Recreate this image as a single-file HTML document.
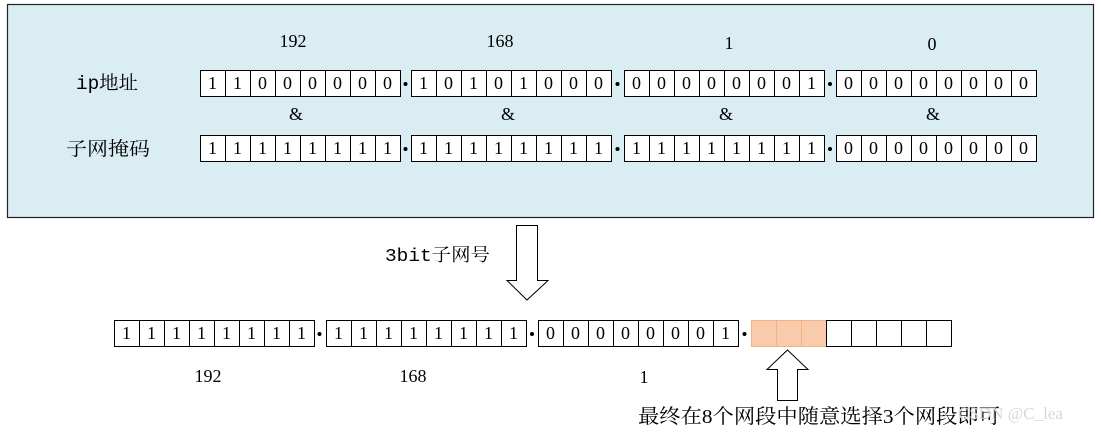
<!DOCTYPE html>
<html><head><meta charset="utf-8"><style>
html,body{margin:0;padding:0;background:#fff}
svg text{font-family:"Liberation Serif","Noto Serif CJK SC",serif;fill:#000}
.d{font-size:18px;text-anchor:middle}
.m{font-family:"Liberation Mono","Noto Serif CJK SC",serif !important}
.g rect{fill:#fff;stroke:#000;stroke-width:1}
.g line{stroke:#000;stroke-width:1}
</style></head><body>
<svg width="1101" height="433" viewBox="0 0 1101 433" xmlns="http://www.w3.org/2000/svg">
<defs>
<g id="grid" class="g"><rect x="0.5" y="0.5" width="200" height="26"/>
<line x1="25.5" y1="0" x2="25.5" y2="27"/><line x1="50.5" y1="0" x2="50.5" y2="27"/><line x1="75.5" y1="0" x2="75.5" y2="27"/><line x1="100.5" y1="0" x2="100.5" y2="27"/><line x1="125.5" y1="0" x2="125.5" y2="27"/><line x1="150.5" y1="0" x2="150.5" y2="27"/><line x1="175.5" y1="0" x2="175.5" y2="27"/></g>
</defs>
<rect x="7.5" y="4.5" width="1086" height="213" fill="#daedf3" stroke="#222" stroke-width="1.2"/>
<g class="d">
<text x="293" y="47">192</text><text x="500" y="47">168</text><text x="729" y="49">1</text><text x="932" y="50">0</text>
<text x="296" y="120">&amp;</text><text x="508" y="120">&amp;</text><text x="726" y="120">&amp;</text><text x="933" y="120">&amp;</text>
</g>
<text class="m" x="76" y="89" font-size="19" textLength="62" lengthAdjust="spacingAndGlyphs">ip地址</text>
<text x="66" y="155" font-size="19" textLength="84" lengthAdjust="spacingAndGlyphs">子网掩码</text>

<use href="#grid" x="200" y="70"/><use href="#grid" x="411" y="70"/><use href="#grid" x="624" y="70"/><use href="#grid" x="836" y="70"/>
<g class="d">
<text x="212.5" y="89">1</text><text x="237.5" y="89">1</text><text x="262.5" y="89">0</text><text x="287.5" y="89">0</text><text x="312.5" y="89">0</text><text x="337.5" y="89">0</text><text x="362.5" y="89">0</text><text x="387.5" y="89">0</text>
<text x="423.5" y="89">1</text><text x="448.5" y="89">0</text><text x="473.5" y="89">1</text><text x="498.5" y="89">0</text><text x="523.5" y="89">1</text><text x="548.5" y="89">0</text><text x="573.5" y="89">0</text><text x="598.5" y="89">0</text>
<text x="636.5" y="89">0</text><text x="661.5" y="89">0</text><text x="686.5" y="89">0</text><text x="711.5" y="89">0</text><text x="736.5" y="89">0</text><text x="761.5" y="89">0</text><text x="786.5" y="89">0</text><text x="811.5" y="89">1</text>
<text x="848.5" y="89">0</text><text x="873.5" y="89">0</text><text x="898.5" y="89">0</text><text x="923.5" y="89">0</text><text x="948.5" y="89">0</text><text x="973.5" y="89">0</text><text x="998.5" y="89">0</text><text x="1023.5" y="89">0</text>
</g>
<circle cx="405.5" cy="84" r="2"/><circle cx="617.5" cy="84" r="2"/><circle cx="830" cy="84" r="2"/>

<use href="#grid" x="200" y="135"/><use href="#grid" x="411" y="135"/><use href="#grid" x="624" y="135"/><use href="#grid" x="836" y="135"/>
<g class="d">
<text x="212.5" y="154">1</text><text x="237.5" y="154">1</text><text x="262.5" y="154">1</text><text x="287.5" y="154">1</text><text x="312.5" y="154">1</text><text x="337.5" y="154">1</text><text x="362.5" y="154">1</text><text x="387.5" y="154">1</text>
<text x="423.5" y="154">1</text><text x="448.5" y="154">1</text><text x="473.5" y="154">1</text><text x="498.5" y="154">1</text><text x="523.5" y="154">1</text><text x="548.5" y="154">1</text><text x="573.5" y="154">1</text><text x="598.5" y="154">1</text>
<text x="636.5" y="154">1</text><text x="661.5" y="154">1</text><text x="686.5" y="154">1</text><text x="711.5" y="154">1</text><text x="736.5" y="154">1</text><text x="761.5" y="154">1</text><text x="786.5" y="154">1</text><text x="811.5" y="154">1</text>
<text x="848.5" y="154">0</text><text x="873.5" y="154">0</text><text x="898.5" y="154">0</text><text x="923.5" y="154">0</text><text x="948.5" y="154">0</text><text x="973.5" y="154">0</text><text x="998.5" y="154">0</text><text x="1023.5" y="154">0</text>
</g>
<circle cx="405.5" cy="149" r="2"/><circle cx="617.5" cy="149" r="2"/><circle cx="830" cy="149" r="2"/>

<text class="m" x="385" y="261" font-size="18" textLength="105" lengthAdjust="spacingAndGlyphs">3bit子网号</text>
<polygon points="516.5,225.5 537.5,225.5 537.5,280.5 548,280.5 527,300 507,280.5 516.5,280.5" fill="#fff" stroke="#000" stroke-width="1"/>

<use href="#grid" x="114" y="320"/><use href="#grid" x="326" y="320"/><use href="#grid" x="538" y="320"/><use href="#grid" x="751" y="320"/>
<rect x="751.5" y="320.5" width="75" height="26" fill="#f8cbad" stroke="#f4b183"/>
<line x1="776.5" y1="321" x2="776.5" y2="346" stroke="#f4b183"/><line x1="801.5" y1="321" x2="801.5" y2="346" stroke="#f4b183"/>
<line x1="826.5" y1="320" x2="826.5" y2="347" stroke="#000"/>
<g class="d">
<text x="126.5" y="339">1</text><text x="151.5" y="339">1</text><text x="176.5" y="339">1</text><text x="201.5" y="339">1</text><text x="226.5" y="339">1</text><text x="251.5" y="339">1</text><text x="276.5" y="339">1</text><text x="301.5" y="339">1</text>
<text x="338.5" y="339">1</text><text x="363.5" y="339">1</text><text x="388.5" y="339">1</text><text x="413.5" y="339">1</text><text x="438.5" y="339">1</text><text x="463.5" y="339">1</text><text x="488.5" y="339">1</text><text x="513.5" y="339">1</text>
<text x="550.5" y="339">0</text><text x="575.5" y="339">0</text><text x="600.5" y="339">0</text><text x="625.5" y="339">0</text><text x="650.5" y="339">0</text><text x="675.5" y="339">0</text><text x="700.5" y="339">0</text><text x="725.5" y="339">1</text>
<text x="208" y="382">192</text><text x="413" y="382">168</text><text x="644" y="383">1</text>
</g>
<circle cx="319.5" cy="334" r="2"/><circle cx="532" cy="334" r="2"/><circle cx="744.5" cy="334" r="2"/>

<polygon points="787.5,350 808,369.5 797.5,369.5 797.5,400.5 777.5,400.5 777.5,369.5 767,369.5" fill="#fff" stroke="#000" stroke-width="1"/>
<text x="638" y="423" font-size="20" textLength="362" lengthAdjust="spacingAndGlyphs">最终在8个网段中随意选择3个网段即可</text>
<text x="958" y="419" font-size="17" style="fill:#d8d8d8" font-family="Liberation Sans,sans-serif">CSDN @C_lea</text>
</svg>
</body></html>
